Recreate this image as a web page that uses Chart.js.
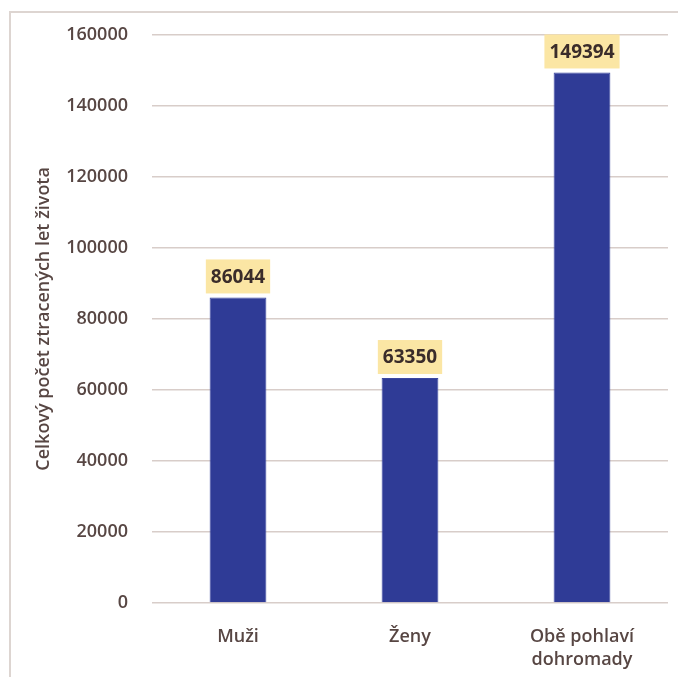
<!DOCTYPE html>
<html lang="cs">
<head>
<meta charset="utf-8">
<title>Ztracené roky života</title>
<script src="https://cdn.jsdelivr.net/npm/chart.js@4.4.1/dist/chart.umd.min.js"></script>
<style>
    html, body { margin: 0; padding: 0; background: #fff; overflow: hidden; }
    .frame {
        position: absolute; left: 9px; top: 11px;
        width: 720px; height: 720px;
        border: 2px solid #ddd5d1;
    }
    .wrap { position: absolute; left: 0; top: 0; width: 678px; height: 677px; }
</style>
</head>
<body>
<div class="frame"></div>
<div class="wrap"><canvas id="yll-chart"></canvas></div>
<script>
// Kategorie a hodnoty
const categories = [['Muži'], ['Ženy'], ['Obě pohlaví', 'dohromady']];
const lostYears = [86044, 63350, 149394];
const yTicks = [0, 20000, 40000, 60000, 80000, 100000, 120000, 140000, 160000];

const FONT = "'Open Sans', 'DejaVu Sans', sans-serif";
const TEXT = '#574643';
const GRID = '#d8cdc9';

// Popisky hodnot nad sloupci na žlutém podkladu
const valueBoxes = {
    id: 'valueBoxes',
    afterDatasetsDraw(chart) {
        const ctx = chart.ctx;
        const meta = chart.getDatasetMeta(0);
        ctx.save();
        ctx.font = 'bold 19px ' + FONT;
        ctx.textAlign = 'center';
        ctx.textBaseline = 'middle';
        meta.data.forEach((bar, i) => {
            const text = String(lostYears[i]);
            const w = ctx.measureText(text).width + 10;
            const h = 34;
            const bottom = bar.y - 4;
            ctx.fillStyle = '#fbe6a4';
            ctx.fillRect(bar.x - w / 2, bottom - h, w, h);
            ctx.fillStyle = '#3a2c2a';
            ctx.fillText(text, bar.x, bottom - h / 2 + 1);
        });
        ctx.restore();
    }
};

new Chart(document.getElementById('yll-chart'), {
    type: 'bar',
    data: {
        labels: categories,
        datasets: [{
            data: lostYears,
            backgroundColor: '#2f3b96',
            borderColor: '#3b47a0',
            borderWidth: 1,
            barPercentage: 0.33,
            categoryPercentage: 1
        }]
    },
    options: {
        responsive: true,
        maintainAspectRatio: false,
        animation: false,
        layout: { padding: { top: 33, right: 10, left: 0, bottom: 0 } },
        plugins: {
            legend: { display: false },
            tooltip: { enabled: false }
        },
        scales: {
            x: {
                grid: { display: false, drawTicks: false },
                border: { display: false },
                ticks: {
                    color: TEXT,
                    padding: 22,
                    maxRotation: 0,
                    font: { family: FONT, size: 18, weight: '600', lineHeight: 1.3 }
                },
                afterFit: axis => { axis.height = 74; }
            },
            y: {
                min: 0,
                max: 160000,
                afterBuildTicks: axis => { axis.ticks = yTicks.map(v => ({ value: v })); },
                grid: { color: GRID, lineWidth: 1.5, drawTicks: false },
                border: { display: false },
                ticks: {
                    color: TEXT,
                    padding: 24,
                    callback: v => String(v),
                    font: { family: FONT, size: 18, weight: '600' }
                },
                title: {
                    display: true,
                    text: 'Celkový počet ztracených let života',
                    color: TEXT,
                    padding: { top: 33, bottom: 0 },
                    font: { family: FONT, size: 18, weight: '600' }
                },
                afterFit: axis => { axis.width = 152; }
            }
        }
    },
    plugins: [valueBoxes]
});
</script>
</body>
</html>
